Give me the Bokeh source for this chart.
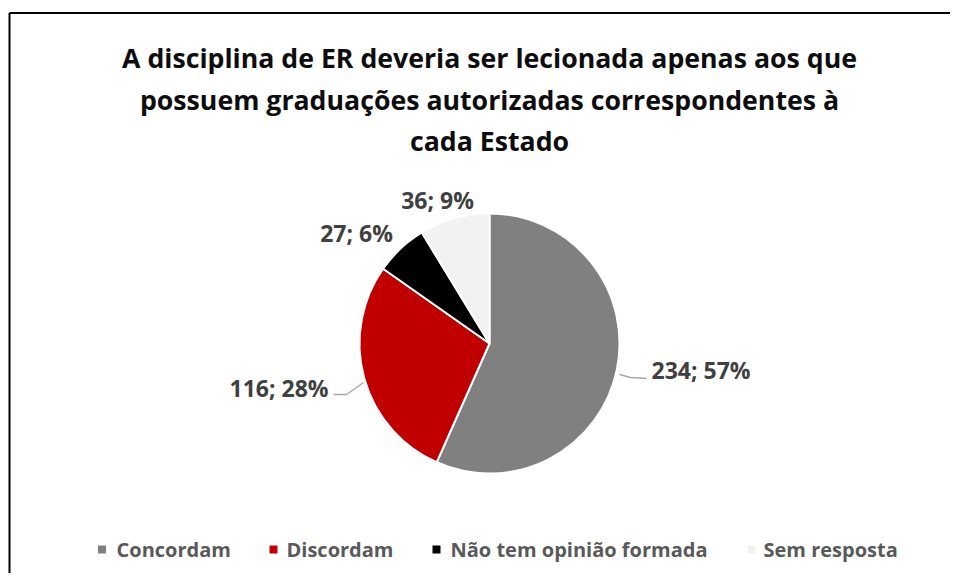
import numpy as np
from bokeh.plotting import figure
from bokeh.models import Range1d, ColumnDataSource
from bokeh.core.properties import value
from bokeh.embed import file_html
from bokeh.resources import INLINE

# ---- data ----
categories = ["Concordam", "Discordam", "Não tem opinião formada", "Sem resposta"]
counts = [234, 116, 27, 36]
pct_labels = ["57%", "28%", "6%", "9%"]
colors = ["#808080", "#C00000", "#000000", "#F2F2F2"]
title_lines = [
    "A disciplina de ER deveria ser lecionada apenas aos que",
    "possuem graduações autorizadas correspondentes à",
    "cada Estado",
]

W, H = 950, 573
FONT = "Open Sans"


def fx(px):
    return px


def fy(py):
    return H - py


p = figure(width=W, height=H, x_range=Range1d(0, W), y_range=Range1d(0, H),
           output_backend="svg", toolbar_location=None, min_border=0)
p.axis.visible = False
p.grid.visible = False
p.outline_line_color = None
p.background_fill_color = "white"
p.border_fill_color = "white"

# border of chart area (left and top edges visible)
p.segment(x0=[fx(9), fx(9)], y0=[fy(12.5), fy(12.5)],
          x1=[fx(9), W + 10], y1=[-10, fy(12.5)],
          line_color="black", line_width=2)

# ---- pie ----
cx, cy, R = fx(489), fy(343), 130
vals = np.array(counts, dtype=float)
ang = vals / vals.sum() * 2 * np.pi
cum = np.concatenate([[0], np.cumsum(ang)])
start = np.pi / 2 - cum[:-1]
end = np.pi / 2 - cum[1:]
src = ColumnDataSource(dict(start=start, end=end, color=colors,
                            x=[cx] * 4, y=[cy] * 4))
p.wedge(x="x", y="y", radius=R, radius_units="screen", start_angle="start",
        end_angle="end", direction="clock", fill_color="color",
        line_color="white", line_width=2, source=src)

# ---- leader lines ----
p.line([fx(619), fx(630), fx(646)], [fy(374), fy(377), fy(378)],
       line_color="#A6A6A6", line_width=1.3)
p.line([fx(363), fx(346), fx(333)], [fy(382), fy(394), fy(394)],
       line_color="#A6A6A6", line_width=1.3)

# ---- data labels ----
lab = [f"{c}; {pc}" for c, pc in zip(counts, pct_labels)]
lab_x = [fx(651), fx(328), fx(356), fx(437)]
lab_y = [fy(369), fy(387), fy(232), fy(199)]
lab_align = ["left", "right", "center", "center"]
p.text(x=lab_x, y=lab_y, text=lab, text_align=lab_align,
       text_baseline="middle", text_font=value(FONT), text_font_style="bold",
       text_font_size="23px", text_color="#404040")

# ---- title ----
p.text(x=[fx(489)] * 3, y=[fy(57), fy(98.5), fy(140)], text=title_lines,
       text_align="center", text_baseline="middle", text_font=value(FONT),
       text_font_style="bold", text_font_size="26.7px", text_color="#0D0D0D")

# ---- legend ----
sq_x = [fx(101.5), fx(273), fx(436), fx(751)]
tx_x = [fx(116), fx(286), fx(450), fx(763)]
ly = fy(549)
p.scatter(x=sq_x, y=[ly] * 4, marker="square", size=8, fill_color=colors,
          line_color=None)
p.text(x=tx_x, y=[ly] * 4, text=categories, text_align="left",
       text_baseline="middle", text_font=value(FONT), text_font_style="bold",
       text_font_size="20px", text_color="#595959")

open("out.html", "w").write(file_html(p, INLINE))
